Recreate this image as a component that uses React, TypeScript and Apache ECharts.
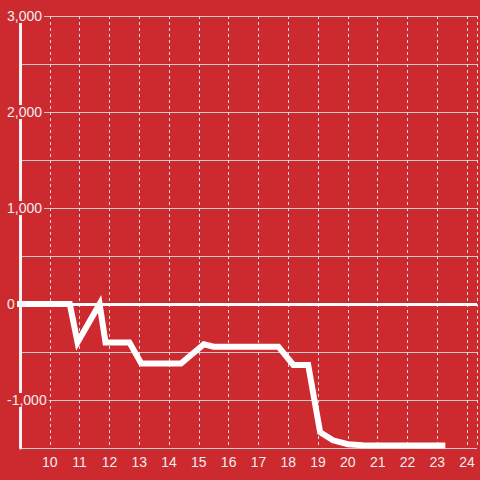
import React, { useEffect, useRef } from "react";
import * as echarts from "echarts";

const hours = [9, 10.67, 10.93, 11.67, 11.87, 12.67, 13.07, 14.4, 15.17, 15.5, 17.67, 18.17, 18.67, 19.07, 19.5, 20, 20.5, 23.17];
const values = [0, 0, -400, 0, -400, -400, -620, -620, -420, -445, -445, -635, -635, -1335, -1420, -1460, -1472, -1474];
const yMin = -1500;
const yMax = 3000;
const xMin = 9;
const xMax = 24.333;

const BG = "#cc2a2f";
const TXT = "#eeeeee";

export default function App() {
  const ref = useRef<HTMLDivElement>(null);
  useEffect(() => {
    const chart = echarts.init(ref.current!, null, { renderer: "svg" });
    const data = hours.map((h, i) => [h, values[i]]);
    chart.setOption({
      animation: false,
      backgroundColor: BG,
      textStyle: { fontFamily: "Liberation Sans" },
      grid: { left: 20, right: 0, top: 16, bottom: 32, containLabel: false },
      xAxis: {
        type: "value",
        min: xMin,
        max: xMax,
        interval: 1,
        axisLine: { show: true, lineStyle: { color: "#cccccc", width: 1 } },
        axisTick: { show: false },
        axisLabel: {
          color: TXT,
          fontSize: 14,
          fontFamily: "Liberation Sans",
          margin: 7,
          formatter: (v: number) => (Number.isInteger(v) && v > xMin ? String(v) : ""),
        },
        splitLine: { show: true, lineStyle: { color: "#dddddd", type: [3, 3], width: 1 } },
      },
      yAxis: [
        {
          type: "value",
          position: "left",
          min: yMin,
          max: yMax,
          interval: 500,
          axisLine: { show: true, onZero: false, lineStyle: { color: "#f2f2f2", width: 3 } },
          axisTick: { show: false },
          axisLabel: { show: false },
          splitLine: { show: true, lineStyle: { color: "#cccccc", width: 1 } },
        },
        {
          type: "value",
          position: "left",
          min: yMin,
          max: yMax,
          interval: 500,
          z: 10,
          axisLine: { show: false },
          axisTick: { show: false },
          splitLine: { show: false },
          axisLabel: {
            show: true,
            align: "left",
            margin: 15,
            formatter: (v: number) =>
              v % 1000 === 0 ? "{a|" + echarts.format.addCommas(v) + "}" : "",
            rich: {
              a: {
                color: TXT,
                fontSize: 14,
                fontFamily: "Liberation Sans",
                backgroundColor: BG,
                padding: [0, 2],
                lineHeight: 16,
              },
            },
          },
        },
      ],
      series: [
        {
          type: "line",
          xAxisIndex: 0,
          yAxisIndex: 0,
          data,
          symbol: "none",
          lineStyle: { color: "#ffffff", width: 6, cap: "square", join: "miter" },
          markLine: {
            silent: true,
            symbol: "none",
            label: { show: false },
            lineStyle: { color: "#ffffff", width: 3, type: "solid" },
            data: [{ yAxis: 0 }],
          },
          z: 5,
        },
      ],
    });
    return () => chart.dispose();
  }, []);
  return (
    <div
      ref={ref}
      style={{ position: "fixed", left: 0, top: 0, width: 480, height: 480 }}
    />
  );
}
